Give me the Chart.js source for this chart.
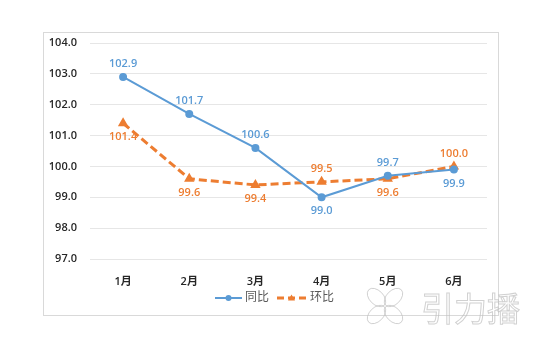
<!DOCTYPE html>
<html lang="zh">
  <head>
    <meta charset="utf-8" />
    <title>同比 / 环比</title>
    <style>
      * { margin: 0; padding: 0; }
      body { background: #fff; }
      .chartBox { width: 536px; height: 346px; }
    </style>
  </head>
  <body>
    <div class="chartBox">
      <canvas id="myChart" width="536" height="346"></canvas>
    </div>

    <script src="https://cdn.jsdelivr.net/npm/chart.js"></script>

    <script>
      // data block
      const months = ["1月", "2月", "3月", "4月", "5月", "6月"];
      const yoy = [102.9, 101.7, 100.6, 99.0, 99.7, 99.9];
      const mom = [101.4, 99.6, 99.4, 99.5, 99.6, 100.0];
      const yTicks = [97, 98, 99, 100, 101, 102, 103, 104];

      const BLUE = "#5B9BD5";
      const ORANGE = "#ED7D31";
      const FONT = "'Open Sans', 'Noto Sans CJK SC', sans-serif";

      // value labels next to each point
      const valueLabels = {
        id: "valueLabels",
        afterDatasetsDraw(chart) {
          const { ctx } = chart;
          ctx.save();
          ctx.font = `600 11px ${FONT}`;
          ctx.textAlign = "center";
          ctx.textBaseline = "middle";
          chart.data.datasets.forEach((ds, i) => {
            const meta = chart.getDatasetMeta(i);
            ctx.fillStyle = ds.borderColor;
            meta.data.forEach((pt, j) => {
              const dy = ds.labelPos[j] === "top" ? -13 : 14;
              ctx.fillText(ds.data[j].toFixed(1), pt.x, pt.y + dy);
            });
          });
          ctx.restore();
        },
      };

      // outer frame + legend + watermark
      const frame = {
        id: "frame",
        afterDraw(chart) {
          const { ctx } = chart;
          ctx.save();
          ctx.strokeStyle = "#D9D9D9";
          ctx.lineWidth = 1;
          ctx.strokeRect(43.5, 32.5, 455, 283);

          // legend
          const ly = 298;
          ctx.lineWidth = 2;
          ctx.strokeStyle = BLUE;
          ctx.beginPath();
          ctx.moveTo(215, ly);
          ctx.lineTo(242, ly);
          ctx.stroke();
          ctx.fillStyle = BLUE;
          ctx.beginPath();
          ctx.arc(228.5, ly, 3, 0, Math.PI * 2);
          ctx.fill();

          ctx.lineWidth = 3;
          ctx.strokeStyle = ORANGE;
          ctx.setLineDash([7, 4]);
          ctx.beginPath();
          ctx.moveTo(277, ly);
          ctx.lineTo(306, ly);
          ctx.stroke();
          ctx.setLineDash([]);
          ctx.fillStyle = ORANGE;
          ctx.beginPath();
          ctx.moveTo(291.5, ly - 3.5);
          ctx.lineTo(295, ly + 2.5);
          ctx.lineTo(288, ly + 2.5);
          ctx.closePath();
          ctx.fill();

          ctx.fillStyle = "#595959";
          ctx.font = `12px ${FONT}`;
          ctx.textAlign = "left";
          ctx.textBaseline = "middle";
          ctx.fillText("同比", 245, ly);
          ctx.fillText("环比", 310, ly);

          // watermark
          ctx.strokeStyle = "rgba(190,190,190,0.7)";
          ctx.lineWidth = 1;
          [45, 135, 225, 315].forEach((a) => {
            const r = (a * Math.PI) / 180;
            ctx.beginPath();
            ctx.ellipse(385 + Math.cos(r) * 12, 306 + Math.sin(r) * 12, 11, 7, r, 0, Math.PI * 2);
            ctx.stroke();
          });
          ctx.font = `33px 'Noto Sans CJK SC', sans-serif`;
          ctx.strokeText("引力播", 421, 308);
          ctx.restore();
        },
      };

      // config block
      const config = {
        type: "line",
        data: {
          labels: months,
          datasets: [
            {
              label: "同比",
              data: yoy,
              borderColor: BLUE,
              backgroundColor: BLUE,
              borderWidth: 2,
              pointStyle: "circle",
              pointRadius: 3,
              pointHoverRadius: 3,
              tension: 0,
              labelPos: ["top", "top", "top", "bottom", "top", "bottom"],
            },
            {
              label: "环比",
              data: mom,
              borderColor: ORANGE,
              backgroundColor: ORANGE,
              borderWidth: 3,
              borderDash: [8, 4],
              pointStyle: "triangle",
              pointRadius: 3,
              pointHoverRadius: 3,
              tension: 0,
              labelPos: ["bottom", "bottom", "bottom", "top", "bottom", "top"],
            },
          ],
        },
        options: {
          responsive: false,
          animation: false,
          layout: { padding: { top: 43, left: 0, right: 49, bottom: 0 } },
          plugins: {
            legend: { display: false },
            tooltip: { enabled: false },
          },
          scales: {
            x: {
              offset: true,
              grid: { display: false },
              border: { display: false },
              ticks: {
                color: "#262626",
                font: { family: FONT, size: 11, weight: "600" },
                padding: 8,
              },
              afterFit(scale) {
                scale.height = 87;
              },
            },
            y: {
              min: 97,
              max: 104,
              afterBuildTicks(scale) {
                scale.ticks = yTicks.map((v) => ({ value: v }));
              },
              grid: { color: "#E6E6E6", drawTicks: false },
              border: { display: false },
              ticks: {
                color: "#262626",
                font: { family: FONT, size: 11, weight: "600" },
                padding: 13,
                callback: (v) => Number(v).toFixed(1),
              },
              afterFit(scale) {
                scale.width = 90;
              },
            },
          },
        },
        plugins: [valueLabels, frame],
      };

      // init render block
      const myChart = new Chart(document.getElementById("myChart"), config);
    </script>
  </body>
</html>
